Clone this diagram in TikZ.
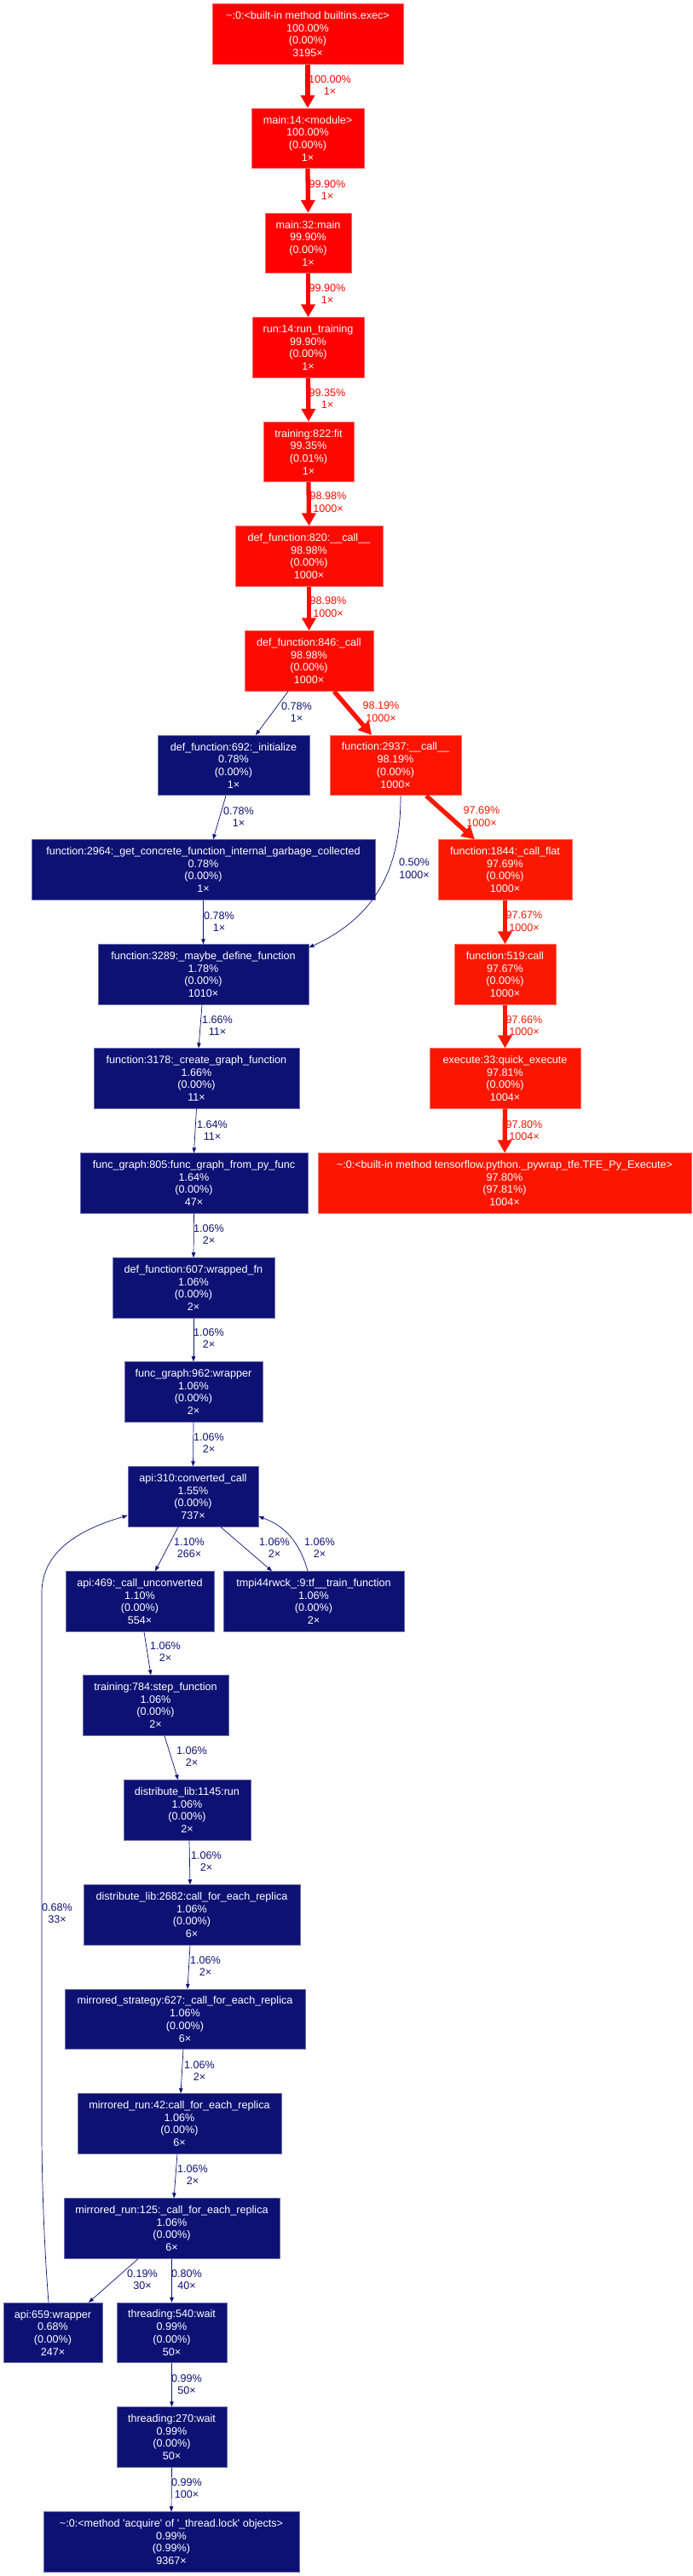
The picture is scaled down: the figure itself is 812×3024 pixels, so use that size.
\documentclass[tikz,border=0pt]{standalone}
\usepackage{fontspec}
\newfontfamily\lsans{Liberation Sans}
\usetikzlibrary{arrows.meta,calc}
\definecolor{cA}{HTML}{FF0000}
\definecolor{cB}{HTML}{FF0100}
\definecolor{cC}{HTML}{FE0700}
\definecolor{cD}{HTML}{FD0B00}
\definecolor{cE}{HTML}{FC1300}
\definecolor{cF}{HTML}{FB1800}
\definecolor{cG}{HTML}{FC1600}
\definecolor{nv}{HTML}{0D1174}
\tikzset{
  fn/.style={rectangle, fill=#1, draw=#1!60!white, line width=0.8pt, text=white,
    font=\lsans\fontsize{12.6}{14.7}\selectfont, align=center, inner sep=0pt, minimum height=70.5pt},
  lab/.style={text=#1, font=\lsans\fontsize{12.6}{14.7}\selectfont, align=center, inner sep=0pt},
  hot/.style={draw=#1, line width=5.3pt, -{Triangle[width=16pt,length=15pt]}},
  cold/.style={draw=nv, line width=0.7pt, -{Triangle[width=4.5pt,length=6pt]}}
}
\begin{document}
\begin{tikzpicture}[x=1pt,y=-1pt]
\useasboundingbox (0,0) rectangle (812,3024);
\fill[white] (0,0) rectangle (812,3024);
% nodes
\node[fn=cA, minimum width=224pt] (n1) at (361,40) {\textasciitilde:0:<built-in method builtins.exec>\\100.00\%\\(0.00\%)\\3195×};
\node[fn=cA, minimum width=132pt] (n2) at (361,162.5) {main:14:<module>\\100.00\%\\(0.00\%)\\1×};
\node[fn=cB, minimum width=101pt] (n3) at (361.5,285.5) {main:32:main\\99.90\%\\(0.00\%)\\1×};
\node[fn=cB, minimum width=131pt] (n4) at (361.5,408) {run:14:run\_training\\99.90\%\\(0.00\%)\\1×};
\node[fn=cC, minimum width=106pt] (n5) at (362,530.5) {training:822:fit\\99.35\%\\(0.01\%)\\1×};
\node[fn=cD, minimum width=173pt] (n6) at (362.5,653) {def\_function:820:\_\_call\_\_\\98.98\%\\(0.00\%)\\1000×};
\node[fn=cD, minimum width=151pt] (n7) at (362.5,776) {def\_function:846:\_call\\98.98\%\\(0.00\%)\\1000×};
\node[fn=nv, minimum width=178pt] (n8) at (274,898.5) {def\_function:692:\_initialize\\0.78\%\\(0.00\%)\\1×};
\node[fn=cE, minimum width=154pt] (n9) at (464,898.5) {function:2937:\_\_call\_\_\\98.19\%\\(0.00\%)\\1000×};
\node[fn=nv, minimum width=403pt] (n10) at (238.5,1021) {function:2964:\_get\_concrete\_function\_internal\_garbage\_collected\\0.78\%\\(0.00\%)\\1×};
\node[fn=cF, minimum width=157pt] (n11) at (592.5,1021) {function:1844:\_call\_flat\\97.69\%\\(0.00\%)\\1000×};
\node[fn=nv, minimum width=247pt] (n12) at (238.5,1144) {function:3289:\_maybe\_define\_function\\1.78\%\\(0.00\%)\\1010×};
\node[fn=cF, minimum width=119pt] (n13) at (592.5,1144) {function:519:call\\97.67\%\\(0.00\%)\\1000×};
\node[fn=nv, minimum width=241pt] (n14) at (230.5,1266) {function:3178:\_create\_graph\_function\\1.66\%\\(0.00\%)\\11×};
\node[fn=cG, minimum width=177pt] (n15) at (592.5,1266) {execute:33:quick\_execute\\97.81\%\\(0.00\%)\\1004×};
\node[fn=nv, minimum width=267pt] (n16) at (227.5,1389) {func\_graph:805:func\_graph\_from\_py\_func\\1.64\%\\(0.00\%)\\47×};
\node[fn=cG, minimum width=438pt] (n17) at (592,1389) {\textasciitilde:0:<built-in method tensorflow.python.\_pywrap\_tfe.TFE\_Py\_Execute>\\97.80\%\\(97.81\%)\\1004×};
\node[fn=nv, minimum width=190pt] (n18) at (227,1512) {def\_function:607:wrapped\_fn\\1.06\%\\(0.00\%)\\2×};
\node[fn=nv, minimum width=162pt] (n19) at (227,1634) {func\_graph:962:wrapper\\1.06\%\\(0.00\%)\\2×};
\node[fn=nv, minimum width=153pt] (n20) at (226.5,1757) {api:310:converted\_call\\1.55\%\\(0.00\%)\\737×};
\node[fn=nv, minimum width=174pt] (n21) at (164,1880) {api:469:\_call\_unconverted\\1.10\%\\(0.00\%)\\554×};
\node[fn=nv, minimum width=212pt] (n22) at (368,1880) {tmpi44rwck\_:9:tf\_\_train\_function\\1.06\%\\(0.00\%)\\2×};
\node[fn=nv, minimum width=171pt] (n23) at (182.5,2002) {training:784:step\_function\\1.06\%\\(0.00\%)\\2×};
\node[fn=nv, minimum width=149pt] (n24) at (219.5,2125) {distribute\_lib:1145:run\\1.06\%\\(0.00\%)\\2×};
\node[fn=nv, minimum width=254pt] (n25) at (225,2248) {distribute\_lib:2682:call\_for\_each\_replica\\1.06\%\\(0.00\%)\\6×};
\node[fn=nv, minimum width=282pt] (n26) at (217,2370.5) {mirrored\_strategy:627:\_call\_for\_each\_replica\\1.06\%\\(0.00\%)\\6×};
\node[fn=nv, minimum width=239pt] (n27) at (210.5,2493) {mirrored\_run:42:call\_for\_each\_replica\\1.06\%\\(0.00\%)\\6×};
\node[fn=nv, minimum width=253pt] (n28) at (201.5,2616) {mirrored\_run:125:\_call\_for\_each\_replica\\1.06\%\\(0.00\%)\\6×};
\node[fn=nv, minimum width=116pt] (n29) at (62,2738.5) {api:659:wrapper\\0.68\%\\(0.00\%)\\247×};
\node[fn=nv, minimum width=129pt] (n30) at (201.5,2738.5) {threading:540:wait\\0.99\%\\(0.00\%)\\50×};
\node[fn=nv, minimum width=129pt] (n31) at (201.5,2861) {threading:270:wait\\0.99\%\\(0.00\%)\\50×};
\node[fn=nv, minimum width=300pt] (n32) at (201,2984) {\textasciitilde:0:<method \textquotesingle acquire\textquotesingle\ of \textquotesingle\_thread.lock\textquotesingle\ objects>\\0.99\%\\(0.99\%)\\9367×};
% hot edges
\draw[hot=cA] (n1.south) -- (n2.north);
\draw[hot=cB] (n2.south) -- (n3.north);
\draw[hot=cB] (n3.south) -- (n4.north);
\draw[hot=cC] (n4.south) -- (n5.north);
\draw[hot=cD] (n5.south) -- (n6.north);
\draw[hot=cD] (n6.south) -- (n7.north);
\draw[hot=cE] ($(n7.south)+(29.5,0)$) -- ($(n9.north)+(-28,0)$);
\draw[hot=cF] ($(n9.south)+(36,0)$) -- ($(n11.north)+(-35.5,0)$);
\draw[hot=cF] (n11.south) -- (n13.north);
\draw[hot=cF] (n13.south) -- (n15.north);
\draw[hot=cG] (n15.south) -- (n17.north);
% cold edges
\draw[cold] ($(n7.south)+(-24.5,0)$) -- ($(n8.north)+(26,0)$);
\draw[cold] ($(n8.south)+(-9,0)$) -- ($(n10.north)+(11.5,0)$);
\draw[cold] (n10.south) -- (n12.north);
\draw[cold] ($(n9.south)+(6,0)$) .. controls (470,1000) and (455,1070) .. ($(n12.north east)+(0,4)$);
\draw[cold] ($(n12.south)+(-1.5,0)$) -- ($(n14.north)+(2.5,0)$);
\draw[cold] (n14.south) -- (n16.north);
\draw[cold] (n16.south) -- (n18.north);
\draw[cold] (n18.south) -- (n19.north);
\draw[cold] (n19.south) -- (n20.north);
\draw[cold] ($(n20.south)+(-17.5,0)$) -- ($(n21.north)+(18,0)$);
\draw[cold] ($(n20.south)+(32.5,0)$) -- ($(n22.north)+(-49,0)$);
\draw[cold] ($(n22.north)+(-7,0)$) .. controls (350,1805) and (330,1790) .. ($(n20.east)+(0,23)$);
\draw[cold] ($(n21.south)+(5,0)$) -- ($(n23.north)+(-5.5,0)$);
\draw[cold] ($(n23.south)+(10.5,0)$) -- ($(n24.north)+(-10.5,0)$);
\draw[cold] ($(n24.south)+(2.5,0)$) -- ($(n25.north)+(-2,0)$);
\draw[cold] ($(n25.south)+(-2,0)$) -- ($(n26.north)+(3,0)$);
\draw[cold] ($(n26.south)+(-2,0)$) -- ($(n27.north)+(1.5,0)$);
\draw[cold] ($(n27.south)+(-2.5,0)$) -- ($(n28.north)+(2.5,0)$);
\draw[cold] ($(n28.south)+(-39.5,0)$) -- ($(n29.north)+(42,0)$);
\draw[cold] (n28.south) -- (n30.north);
\draw[cold] (n30.south) -- (n31.north);
\draw[cold] (n31.south) -- (n32.north);
\draw[cold] ($(n29.north)+(-5,0)$) .. controls (52,2640) and (49,2560) .. (49,2500) -- (49,1870) .. controls (49,1820) and (95,1795) .. ($(n20.west)+(0,22)$);
% edge labels
\node[lab=cA] (l1) at (387,100) {100.00\%\\1×};
\node[lab=cB] (l2) at (384,223) {99.90\%\\1×};
\node[lab=cB] (l3) at (384,345) {99.90\%\\1×};
\node[lab=cC] (l4) at (384,468) {99.35\%\\1×};
\node[lab=cD] (l5) at (385,590) {98.98\%\\1000×};
\node[lab=cD] (l6) at (385,713) {98.98\%\\1000×};
\node[lab=nv] (l7) at (348,836) {0.78\%\\1×};
\node[lab=cE] (l8) at (447,836) {98.19\%\\1000×};
\node[lab=nv] (l9) at (280,959) {0.78\%\\1×};
\node[lab=cF] (l10) at (565,959) {97.69\%\\1000×};
\node[lab=nv] (l11) at (257,1082) {0.78\%\\1×};
\node[lab=nv] (l12) at (486,1020) {0.50\%\\1000×};
\node[lab=cF] (l13) at (615,1082) {97.67\%\\1000×};
\node[lab=nv] (l14) at (255,1204) {1.66\%\\11×};
\node[lab=cF] (l15) at (615,1204) {97.66\%\\1000×};
\node[lab=nv] (l16) at (249,1327) {1.64\%\\11×};
\node[lab=cG] (l17) at (615,1327) {97.80\%\\1004×};
\node[lab=nv] (l18) at (245,1449) {1.06\%\\2×};
\node[lab=nv] (l19) at (245,1571) {1.06\%\\2×};
\node[lab=nv] (l20) at (245,1694) {1.06\%\\2×};
\node[lab=nv] (l21) at (222,1817) {1.10\%\\266×};
\node[lab=nv] (l22) at (322,1817) {1.06\%\\2×};
\node[lab=nv] (l23) at (375,1817) {1.06\%\\2×};
\node[lab=nv] (l24) at (194,1939) {1.06\%\\2×};
\node[lab=nv] (l25) at (225,2062) {1.06\%\\2×};
\node[lab=nv] (l26) at (242,2185) {1.06\%\\2×};
\node[lab=nv] (l27) at (241,2308) {1.06\%\\2×};
\node[lab=nv] (l28) at (234,2431) {1.06\%\\2×};
\node[lab=nv] (l29) at (226,2553) {1.06\%\\2×};
\node[lab=nv] (l30) at (167,2676) {0.19\%\\30×};
\node[lab=nv] (l31) at (219,2676) {0.80\%\\40×};
\node[lab=nv] (l32) at (219,2799) {0.99\%\\50×};
\node[lab=nv] (l33) at (219,2921) {0.99\%\\100×};
\node[lab=nv] (l34) at (67,2246) {0.68\%\\33×};
\end{tikzpicture}
\end{document}
